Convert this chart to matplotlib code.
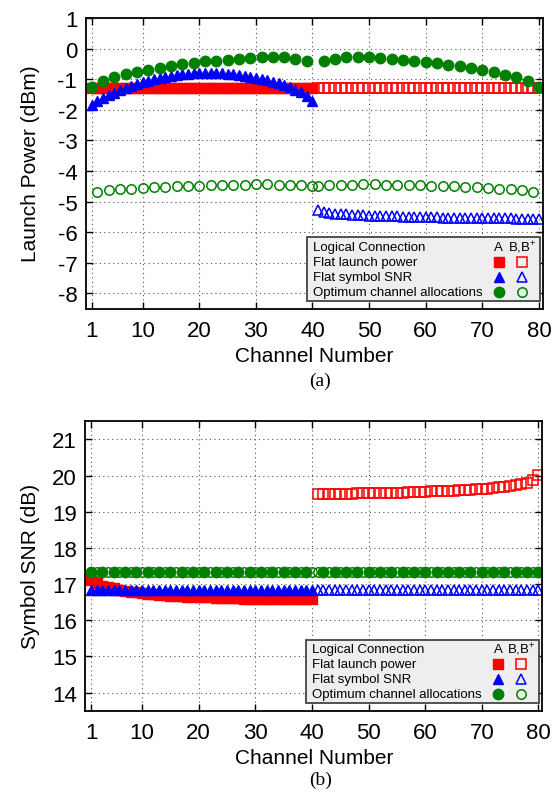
import matplotlib
matplotlib.use("Agg")
import matplotlib.pyplot as plt
from matplotlib.patches import Rectangle

plt.rcParams['font.family'] = ['Liberation Sans', 'DejaVu Sans']
plt.rcParams['mathtext.fontset'] = 'custom'
plt.rcParams['mathtext.rm'] = 'Liberation Sans'
plt.rcParams['axes.unicode_minus'] = False

RED = '#ff0000'
BLUE = '#0000ff'
GREEN = '#008000'

# channels of logical connection A (1-40) and B,B+ (41-80)
ch_A = list(range(1, 41))
ch_B = list(range(41, 81))
# optimum allocation interleaves the two connections
opt_ch_A = list(range(1, 40, 2)) + list(range(42, 81, 2))
opt_ch_B = list(range(2, 41, 2)) + list(range(41, 80, 2))

xticks = [1, 10, 20, 30, 40, 50, 60, 70, 80]
yticks_a = [-8, -7, -6, -5, -4, -3, -2, -1, 0, 1]
yticks_b = [14, 15, 16, 17, 18, 19, 20, 21]

# ---- (a) launch power, dBm ----
pow_flat_A = [-1.30, -1.30, -1.30, -1.30, -1.30, -1.30, -1.30, -1.30, -1.30, -1.30,
              -1.30, -1.30, -1.30, -1.30, -1.30, -1.30, -1.30, -1.30, -1.30, -1.30,
              -1.30, -1.30, -1.30, -1.30, -1.30, -1.30, -1.30, -1.30, -1.30, -1.30,
              -1.30, -1.30, -1.30, -1.30, -1.30, -1.30, -1.30, -1.30, -1.30, -1.30]
pow_flat_B = [-1.30, -1.30, -1.30, -1.30, -1.30, -1.30, -1.30, -1.30, -1.30, -1.30,
              -1.30, -1.30, -1.30, -1.30, -1.30, -1.30, -1.30, -1.30, -1.30, -1.30,
              -1.30, -1.30, -1.30, -1.30, -1.30, -1.30, -1.30, -1.30, -1.30, -1.30,
              -1.30, -1.30, -1.30, -1.30, -1.30, -1.30, -1.30, -1.30, -1.30, -1.30]
pow_snr_A = [-1.85, -1.72, -1.62, -1.52, -1.44, -1.36, -1.29, -1.22, -1.16, -1.10,
             -1.05, -1.00, -0.96, -0.92, -0.89, -0.86, -0.84, -0.82, -0.81, -0.80,
             -0.79, -0.79, -0.80, -0.81, -0.82, -0.84, -0.86, -0.89, -0.92, -0.95,
             -0.99, -1.03, -1.08, -1.13, -1.19, -1.26, -1.34, -1.43, -1.55, -1.72]
pow_snr_B = [-5.28, -5.34, -5.37, -5.39, -5.41, -5.42, -5.43, -5.44, -5.45, -5.46,
             -5.46, -5.47, -5.47, -5.48, -5.48, -5.49, -5.49, -5.50, -5.50, -5.51,
             -5.51, -5.51, -5.52, -5.52, -5.52, -5.53, -5.53, -5.53, -5.54, -5.54,
             -5.54, -5.55, -5.55, -5.55, -5.55, -5.56, -5.56, -5.56, -5.57, -5.57]
pow_opt_A = [-1.26, -1.07, -0.93, -0.83, -0.75, -0.69, -0.63, -0.57, -0.50, -0.46,
             -0.42, -0.39, -0.36, -0.33, -0.31, -0.28, -0.27, -0.28, -0.33, -0.40,
             -0.41, -0.33, -0.28, -0.27, -0.28, -0.31, -0.33, -0.36, -0.39, -0.44,
             -0.47, -0.52, -0.57, -0.63, -0.70, -0.76, -0.85, -0.94, -1.07, -1.26]
pow_opt_B = [-4.69, -4.63, -4.60, -4.58, -4.54, -4.52, -4.51, -4.50, -4.49, -4.48,
             -4.47, -4.46, -4.45, -4.45, -4.43, -4.43, -4.45, -4.46, -4.47, -4.48,
             -4.48, -4.47, -4.46, -4.45, -4.43, -4.43, -4.45, -4.45, -4.46, -4.47,
             -4.48, -4.49, -4.50, -4.51, -4.52, -4.54, -4.58, -4.60, -4.63, -4.69]

# ---- (b) symbol SNR, dB ----
snr_flat_A = [17.10, 17.02, 16.96, 16.92, 16.88, 16.85, 16.82, 16.79, 16.77, 16.75,
              16.73, 16.72, 16.70, 16.69, 16.68, 16.67, 16.66, 16.65, 16.65, 16.64,
              16.63, 16.63, 16.62, 16.62, 16.61, 16.61, 16.61, 16.60, 16.60, 16.60,
              16.59, 16.59, 16.59, 16.59, 16.58, 16.58, 16.58, 16.58, 16.58, 16.58]
snr_flat_B = [19.50, 19.50, 19.50, 19.50, 19.50, 19.50, 19.50, 19.51, 19.51, 19.51,
              19.51, 19.52, 19.52, 19.52, 19.53, 19.53, 19.54, 19.54, 19.55, 19.55,
              19.56, 19.56, 19.57, 19.57, 19.58, 19.59, 19.60, 19.61, 19.62, 19.63,
              19.64, 19.65, 19.67, 19.69, 19.71, 19.73, 19.76, 19.80, 19.87, 20.01]
snr_snr_A = [16.84, 16.84, 16.84, 16.84, 16.84, 16.84, 16.84, 16.84, 16.84, 16.84,
             16.84, 16.84, 16.84, 16.84, 16.84, 16.84, 16.84, 16.84, 16.84, 16.84,
             16.84, 16.84, 16.84, 16.84, 16.84, 16.84, 16.84, 16.84, 16.84, 16.84,
             16.84, 16.84, 16.84, 16.84, 16.84, 16.84, 16.84, 16.84, 16.84, 16.84]
snr_snr_B = [16.84, 16.84, 16.84, 16.84, 16.84, 16.84, 16.84, 16.84, 16.84, 16.84,
             16.84, 16.84, 16.84, 16.84, 16.84, 16.84, 16.84, 16.84, 16.84, 16.84,
             16.84, 16.84, 16.84, 16.84, 16.84, 16.84, 16.84, 16.84, 16.84, 16.84,
             16.84, 16.84, 16.84, 16.84, 16.84, 16.84, 16.84, 16.84, 16.84, 16.84]
snr_opt_A = [17.34, 17.34, 17.34, 17.34, 17.34, 17.34, 17.34, 17.34, 17.34, 17.34,
             17.34, 17.34, 17.34, 17.34, 17.34, 17.34, 17.34, 17.34, 17.34, 17.34,
             17.34, 17.34, 17.34, 17.34, 17.34, 17.34, 17.34, 17.34, 17.34, 17.34,
             17.34, 17.34, 17.34, 17.34, 17.34, 17.34, 17.34, 17.34, 17.34, 17.34]
snr_opt_B = [17.34, 17.34, 17.34, 17.34, 17.34, 17.34, 17.34, 17.34, 17.34, 17.34,
             17.34, 17.34, 17.34, 17.34, 17.34, 17.34, 17.34, 17.34, 17.34, 17.34,
             17.34, 17.34, 17.34, 17.34, 17.34, 17.34, 17.34, 17.34, 17.34, 17.34,
             17.34, 17.34, 17.34, 17.34, 17.34, 17.34, 17.34, 17.34, 17.34, 17.34]

legend_rows = ["Logical Connection", "Flat launch power", "Flat symbol SNR",
               "Optimum channel allocations"]

STYLES = {
    'sq_f': dict(marker='s', ms=6.5, color=RED, mec=RED, ls='none'),
    'sq_o': dict(marker='s', ms=6.5, mfc='none', mec=RED, mew=1.1, ls='none'),
    'tr_f': dict(marker='^', ms=7, color=BLUE, mec=BLUE, ls='none'),
    'tr_o': dict(marker='^', ms=6.5, mfc='none', mec=BLUE, mew=1.1, ls='none'),
    'ci_f': dict(marker='o', ms=7.5, color=GREEN, mec=GREEN, ls='none'),
    'ci_o': dict(marker='o', ms=6.8, mfc='none', mec=GREEN, mew=1.1, ls='none'),
}


def draw_panel(ax, series, ylim, yticks):
    for x, y, key in series:
        ax.plot(x, y, **STYLES[key])
    ax.set_xlim(-0.05, 80.7)
    ax.set_ylim(*ylim)
    ax.set_xticks(xticks)
    ax.set_yticks(yticks)
    ax.grid(True, linestyle=(0, (1, 3)), color='#555555', lw=0.8)
    ax.tick_params(direction='in', top=True, right=True, length=5, width=1,
                   labelsize=16)
    ax.tick_params(axis='x', pad=8)
    ax.tick_params(axis='y', pad=6)
    for s in ax.spines.values():
        s.set_linewidth(1.3)
    ax.set_xlabel("Channel Number", fontsize=15, labelpad=4)


def draw_legend(ax):
    ax.add_patch(Rectangle((0.483, 0.027), 0.510, 0.219, transform=ax.transAxes,
                           facecolor='#eeeeee', edgecolor='#444444', lw=1.3, zorder=5))
    ys = [0.212, 0.161, 0.110, 0.059]
    xa, xb = 0.903, 0.954
    for y, label in zip(ys, legend_rows):
        ax.text(0.497, y, label, transform=ax.transAxes, fontsize=9.5,
                va='center', ha='left', zorder=6)
    ax.text(xa, ys[0], "A", transform=ax.transAxes, fontsize=9.5,
            va='center', ha='center', zorder=6)
    ax.text(xb, ys[0], "B,B$^{+}$", transform=ax.transAxes, fontsize=9.5,
            va='center', ha='center', zorder=6)
    pairs = [('sq_f', 'sq_o'), ('tr_f', 'tr_o'), ('ci_f', 'ci_o')]
    for y, (ka, kb) in zip(ys[1:], pairs):
        ax.plot([xa], [y], transform=ax.transAxes, zorder=7, clip_on=False, **STYLES[ka])
        ax.plot([xb], [y], transform=ax.transAxes, zorder=7, clip_on=False, **STYLES[kb])


fig = plt.figure(figsize=(5.6, 8.03), dpi=100)
ax1 = fig.add_axes([0.153, 0.6143, 0.8166, 0.362])
ax2 = fig.add_axes([0.152, 0.1137, 0.8166, 0.3604])

draw_panel(ax1, [(ch_A, pow_flat_A, 'sq_f'), (ch_B, pow_flat_B, 'sq_o'),
                 (ch_A, pow_snr_A, 'tr_f'), (ch_B, pow_snr_B, 'tr_o'),
                 (opt_ch_A, pow_opt_A, 'ci_f'), (opt_ch_B, pow_opt_B, 'ci_o')],
           (-8.5, 1), yticks_a)
draw_legend(ax1)

draw_panel(ax2, [(ch_A, snr_flat_A, 'sq_f'), (ch_B, snr_flat_B, 'sq_o'),
                 (ch_A, snr_snr_A, 'tr_f'), (ch_B, snr_snr_B, 'tr_o'),
                 (opt_ch_A, snr_opt_A, 'ci_f'), (opt_ch_B, snr_opt_B, 'ci_o')],
           (13.5, 21.5), yticks_b)
draw_legend(ax2)

fig.text(0.054, 0.796, "Launch Power (dBm)", rotation=90, ha='center', va='center', fontsize=15)
fig.text(0.054, 0.294, "Symbol SNR (dB)", rotation=90, ha='center', va='center', fontsize=15)
fig.text(0.572, 0.5255, "(a)", ha='center', va='center', fontsize=14, family='Liberation Serif')
fig.text(0.572, 0.0286, "(b)", ha='center', va='center', fontsize=14, family='Liberation Serif')

fig.savefig("out.png", dpi=100)
